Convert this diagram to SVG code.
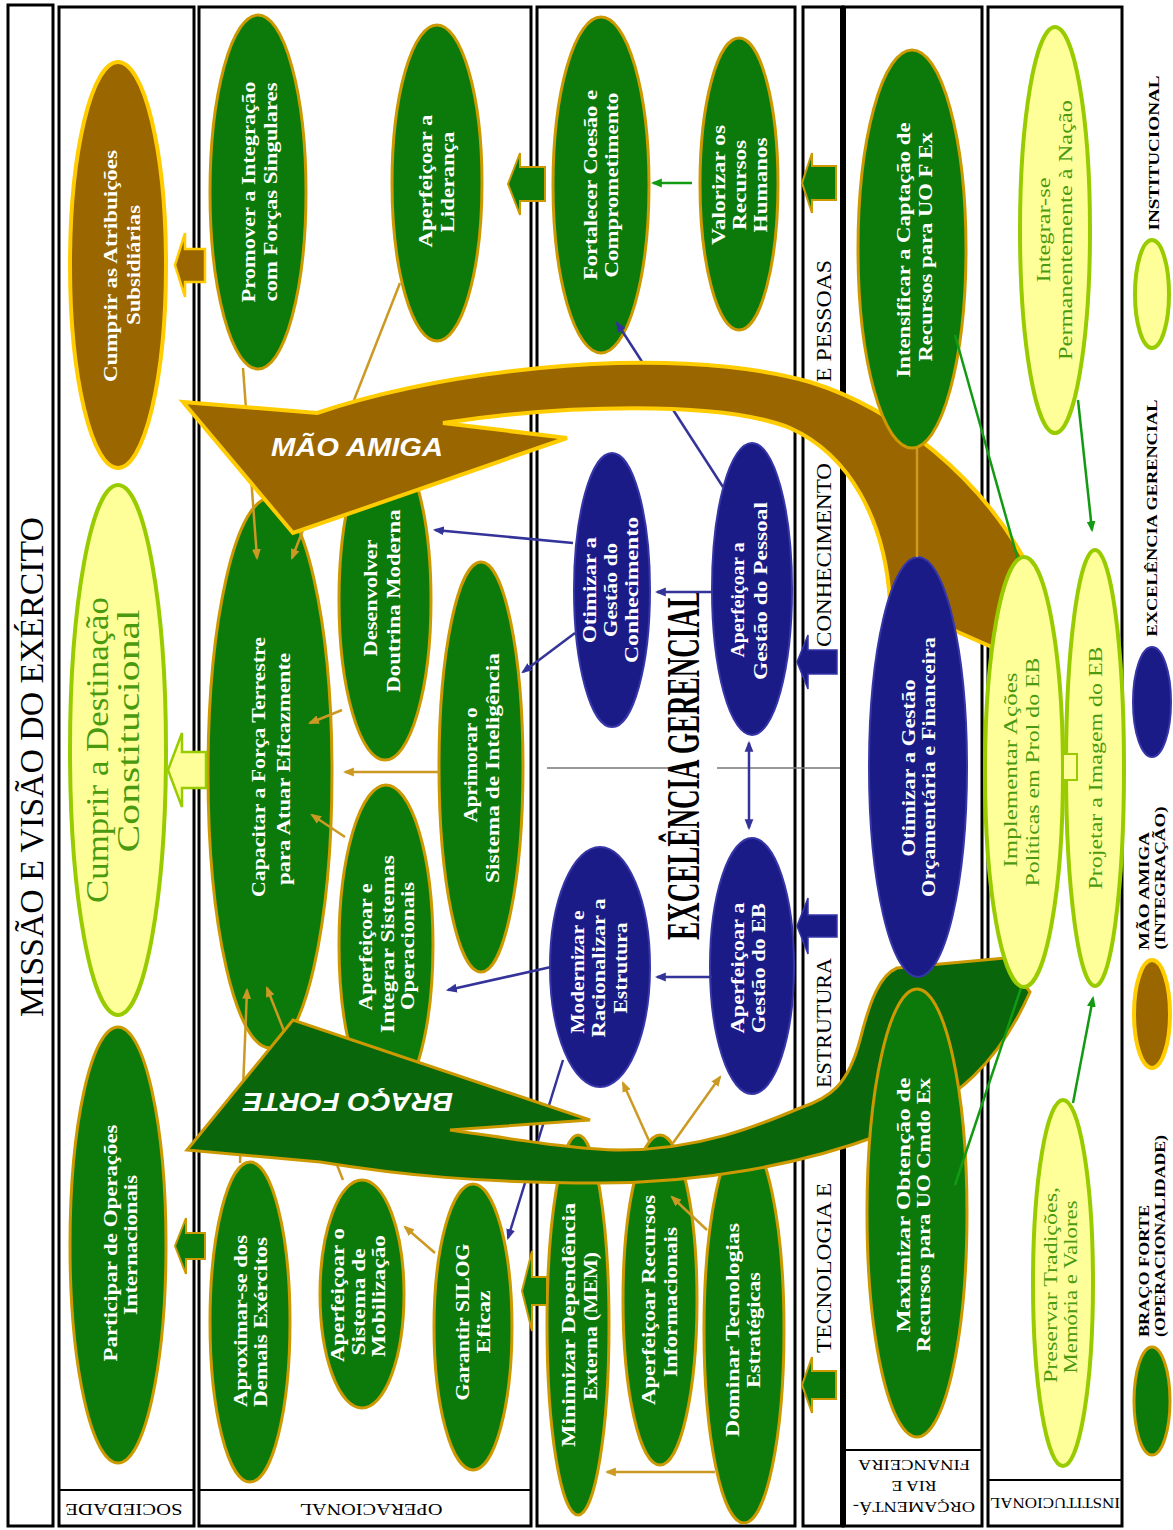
<svg xmlns="http://www.w3.org/2000/svg" width="1173" height="1530" viewBox="0 0 1173 1530">
<defs>
<style>
.box{fill:none;stroke:#000;stroke-width:3}
.sep{stroke:#000;stroke-width:2}
.g{fill:#0b7a0b;stroke:#cc9900;stroke-width:3}
.b{fill:#1b1b88;stroke:#3636a8;stroke-width:2}
.br{fill:#9a6600;stroke:#ffcc00;stroke-width:4}
.y{fill:#ffff99;stroke:#99cc00;stroke-width:4}
.tw{font-family:"Liberation Serif",serif;font-weight:bold;font-size:19px;fill:#fff;text-anchor:middle;dominant-baseline:central}
.tg{font-family:"Liberation Serif",serif;font-size:19px;fill:#4a9a10;text-anchor:middle;dominant-baseline:central}
.lbl{font-family:"Liberation Serif",serif;font-size:20px;fill:#000;text-anchor:middle;dominant-baseline:central}
.small{font-family:"Liberation Serif",serif;font-size:15px;fill:#000;text-anchor:middle;dominant-baseline:central}
.leg{font-family:"Liberation Serif",serif;font-weight:bold;font-size:15px;fill:#000;text-anchor:middle;dominant-baseline:central}
.ct{fill:none;stroke:#cc9922;stroke-width:2.5}
.cb{fill:none;stroke:#333399;stroke-width:2.5}
.cg{fill:none;stroke:#139a13;stroke-width:2.5}
.at{font-family:"Liberation Sans",sans-serif;font-weight:bold;font-style:italic;font-size:25px;fill:#fff;text-anchor:middle;dominant-baseline:central}
.bag{fill:#0b7a0b;stroke:#cc9900;stroke-width:2}
.bab{fill:#1b1b88;stroke:#3636a8;stroke-width:1.5}
</style>
<marker id="mt" viewBox="0 0 10 10" refX="8" refY="5" markerWidth="11" markerHeight="11" markerUnits="userSpaceOnUse" orient="auto-start-reverse"><path d="M0,1 L10,5 L0,9 z" fill="#cc9922"/></marker>
<marker id="mb" viewBox="0 0 10 10" refX="8" refY="5" markerWidth="11" markerHeight="11" markerUnits="userSpaceOnUse" orient="auto-start-reverse"><path d="M0,1 L10,5 L0,9 z" fill="#333399"/></marker>
<marker id="mg" viewBox="0 0 10 10" refX="8" refY="5" markerWidth="11" markerHeight="11" markerUnits="userSpaceOnUse" orient="auto-start-reverse"><path d="M0,1 L10,5 L0,9 z" fill="#139a13"/></marker>
</defs>
<rect width="1173" height="1530" fill="#fff"/>

<g id="panels">
<rect class="box" x="8" y="5" width="45" height="1521"/>
<rect class="box" x="59" y="7" width="135" height="1519"/>
<rect class="box" x="199" y="7" width="332" height="1519"/>
<rect class="box" x="537" y="7" width="258" height="1519"/>
<rect class="box" x="803" y="7" width="40" height="1519"/>
<rect class="box" x="843" y="7" width="139" height="1519"/>
<line x1="843" y1="7" x2="843" y2="1526" stroke="#000" stroke-width="6"/>
<rect class="box" x="988" y="7" width="134" height="1519"/>
<line class="sep" x1="59" y1="1490" x2="194" y2="1490"/>
<line class="sep" x1="199" y1="1490" x2="531" y2="1490"/>
<line class="sep" x1="843" y1="1450" x2="982" y2="1450"/>
<line class="sep" x1="988" y1="1480" x2="1122" y2="1480"/>
<line x1="547" y1="768" x2="668" y2="768" stroke="#777" stroke-width="1.5"/>
<line x1="717" y1="768" x2="840" y2="768" stroke="#777" stroke-width="1.5"/>
<text class="lbl" style="font-size:34px" transform="translate(31,767) rotate(-90)" textLength="500" lengthAdjust="spacingAndGlyphs">MISSÃO E VISÃO DO EXÉRCITO</text>
<text class="small" style="font-size:16px" transform="translate(124,1509) rotate(180)" textLength="117" lengthAdjust="spacingAndGlyphs">SOCIEDADE</text>
<text class="small" style="font-size:16px" transform="translate(371,1509) rotate(180)" textLength="143" lengthAdjust="spacingAndGlyphs">OPERACIONAL</text>
<text class="small" transform="translate(914,1507) rotate(180)" textLength="122" lengthAdjust="spacingAndGlyphs">ORÇAMENTÁ-</text>
<text class="small" transform="translate(914,1486) rotate(180)" textLength="45" lengthAdjust="spacingAndGlyphs">RIA E</text>
<text class="small" transform="translate(914,1465) rotate(180)" textLength="112" lengthAdjust="spacingAndGlyphs">FINANCEIRA</text>
<text class="small" transform="translate(1055,1503) rotate(180)" textLength="130" lengthAdjust="spacingAndGlyphs">INSTITUCIONAL</text>
<text class="lbl" transform="translate(824,1268) rotate(-90)" textLength="170" lengthAdjust="spacingAndGlyphs">TECNOLOGIA E</text>
<text class="lbl" transform="translate(824,1023) rotate(-90)" textLength="130" lengthAdjust="spacingAndGlyphs">ESTRUTURA</text>
<text class="lbl" transform="translate(824,555) rotate(-90)" textLength="184" lengthAdjust="spacingAndGlyphs">CONHECIMENTO</text>
<text class="lbl" transform="translate(824,321) rotate(-90)" textLength="122" lengthAdjust="spacingAndGlyphs">E PESSOAS</text>
<text class="lbl" style="font-size:46px;font-weight:bold" transform="translate(683,765) rotate(-90)" textLength="350" lengthAdjust="spacingAndGlyphs">EXCELÊNCIA GERENCIAL</text>
</g>

<g id="n-cumprir-atribuicoes"><ellipse class="br" cx="118" cy="265" rx="48" ry="203"/>
<text class="tw" transform="translate(110,266) rotate(-90)" textLength="232" lengthAdjust="spacingAndGlyphs">Cumprir as Atribuições</text>
<text class="tw" transform="translate(133,265) rotate(-90)" textLength="120" lengthAdjust="spacingAndGlyphs">Subsidiárias</text></g>

<g id="n-cumprir-destinacao"><ellipse class="y" cx="118" cy="750" rx="48" ry="265"/>
<text class="tg" style="font-size:32px" transform="translate(97,750) rotate(-90)" textLength="306" lengthAdjust="spacingAndGlyphs">Cumprir a Destinação</text>
<text class="tg" style="font-size:32px" transform="translate(128,731) rotate(-90)" textLength="243" lengthAdjust="spacingAndGlyphs">Constitucional</text></g>

<g id="n-participar"><ellipse class="g" cx="118" cy="1245" rx="48" ry="218"/>
<text class="tw" transform="translate(110,1243) rotate(-90)" textLength="237" lengthAdjust="spacingAndGlyphs">Participar de Operações</text>
<text class="tw" transform="translate(130,1245) rotate(-90)" textLength="140" lengthAdjust="spacingAndGlyphs">Internacionais</text></g>

<g id="n-promover"><ellipse class="g" cx="258" cy="192" rx="48" ry="177"/>
<text class="tw" transform="translate(248,192) rotate(-90)" textLength="221" lengthAdjust="spacingAndGlyphs">Promover a Integração</text>
<text class="tw" transform="translate(270,192) rotate(-90)" textLength="219" lengthAdjust="spacingAndGlyphs">com Forças Singulares</text></g>

<g id="n-lideranca"><ellipse class="g" cx="437" cy="183" rx="45" ry="158"/>
<text class="tw" transform="translate(425,181) rotate(-90)" textLength="133" lengthAdjust="spacingAndGlyphs">Aperfeiçoar a</text>
<text class="tw" transform="translate(447,182) rotate(-90)" textLength="101" lengthAdjust="spacingAndGlyphs">Liderança</text></g>

<g id="n-capacitar"><ellipse class="g" cx="270" cy="773" rx="62" ry="275"/>
<text class="tw" transform="translate(258,767) rotate(-90)" textLength="260" lengthAdjust="spacingAndGlyphs">Capacitar a Força Terrestre</text>
<text class="tw" transform="translate(283,769) rotate(-90)" textLength="232" lengthAdjust="spacingAndGlyphs">para Atuar Eficazmente</text></g>

<g id="n-desenvolver"><ellipse class="g" cx="385" cy="600" rx="46" ry="160"/>
<text class="tw" transform="translate(370,598) rotate(-90)" textLength="117" lengthAdjust="spacingAndGlyphs">Desenvolver</text>
<text class="tw" transform="translate(393,601) rotate(-90)" textLength="183" lengthAdjust="spacingAndGlyphs">Doutrina Moderna</text></g>

<g id="n-aprimorar"><ellipse class="g" cx="481" cy="767" rx="42" ry="205"/>
<text class="tw" transform="translate(470,765) rotate(-90)" textLength="115" lengthAdjust="spacingAndGlyphs">Aprimorar o</text>
<text class="tw" transform="translate(492,768) rotate(-90)" textLength="230" lengthAdjust="spacingAndGlyphs">Sistema de Inteligência</text></g>

<g id="n-aperf-integrar"><ellipse class="g" cx="386" cy="945" rx="47" ry="160"/>
<text class="tw" transform="translate(365,947) rotate(-90)" textLength="127" lengthAdjust="spacingAndGlyphs">Aperfeiçoar e</text>
<text class="tw" transform="translate(387,944) rotate(-90)" textLength="178" lengthAdjust="spacingAndGlyphs">Integrar Sistemas</text>
<text class="tw" transform="translate(407,946) rotate(-90)" textLength="128" lengthAdjust="spacingAndGlyphs">Operacionais</text></g>

<g id="n-aproximar"><ellipse class="g" cx="250" cy="1322" rx="40" ry="160"/>
<text class="tw" transform="translate(240,1321) rotate(-90)" textLength="172" lengthAdjust="spacingAndGlyphs">Aproximar-se dos</text>
<text class="tw" transform="translate(260,1322) rotate(-90)" textLength="170" lengthAdjust="spacingAndGlyphs">Demais Exércitos</text></g>

<g id="n-mobilizacao"><ellipse class="g" cx="362" cy="1294" rx="42" ry="114"/>
<text class="tw" transform="translate(337,1295) rotate(-90)" textLength="134" lengthAdjust="spacingAndGlyphs">Aperfeiçoar o</text>
<text class="tw" transform="translate(358,1302) rotate(-90)" textLength="107" lengthAdjust="spacingAndGlyphs">Sistema de</text>
<text class="tw" transform="translate(378,1296) rotate(-90)" textLength="122" lengthAdjust="spacingAndGlyphs">Mobilização</text></g>

<g id="n-silog"><ellipse class="g" cx="473" cy="1327" rx="39" ry="143"/>
<text class="tw" transform="translate(462,1322) rotate(-90)" textLength="157" lengthAdjust="spacingAndGlyphs">Garantir SILOG</text>
<text class="tw" transform="translate(483,1322) rotate(-90)" textLength="63" lengthAdjust="spacingAndGlyphs">Eficaz</text></g>

<g id="n-fortalecer"><ellipse class="g" cx="601" cy="185" rx="48" ry="168"/>
<text class="tw" transform="translate(590,185) rotate(-90)" textLength="190" lengthAdjust="spacingAndGlyphs">Fortalecer Coesão e</text>
<text class="tw" transform="translate(611,185) rotate(-90)" textLength="185" lengthAdjust="spacingAndGlyphs">Comprometimento</text></g>

<g id="n-valorizar"><ellipse class="g" cx="739" cy="184" rx="39" ry="146"/>
<text class="tw" transform="translate(718,185) rotate(-90)" textLength="120" lengthAdjust="spacingAndGlyphs">Valorizar os</text>
<text class="tw" transform="translate(739,185) rotate(-90)" textLength="90" lengthAdjust="spacingAndGlyphs">Recursos</text>
<text class="tw" transform="translate(760,185) rotate(-90)" textLength="95" lengthAdjust="spacingAndGlyphs">Humanos</text></g>

<g id="n-conhecimento"><ellipse class="b" cx="612" cy="590" rx="38" ry="137"/>
<text class="tw" transform="translate(589,590) rotate(-90)" textLength="106" lengthAdjust="spacingAndGlyphs">Otimizar a</text>
<text class="tw" transform="translate(610,590) rotate(-90)" textLength="94" lengthAdjust="spacingAndGlyphs">Gestão do</text>
<text class="tw" transform="translate(631,590) rotate(-90)" textLength="146" lengthAdjust="spacingAndGlyphs">Conhecimento</text></g>

<g id="n-pessoal"><ellipse class="b" cx="752" cy="589" rx="40" ry="146"/>
<text class="tw" transform="translate(737,600) rotate(-90)" textLength="115" lengthAdjust="spacingAndGlyphs">Aperfeiçoar a</text>
<text class="tw" transform="translate(760,591) rotate(-90)" textLength="178" lengthAdjust="spacingAndGlyphs">Gestão do Pessoal</text></g>

<g id="n-modernizar"><ellipse class="b" cx="600" cy="967" rx="50" ry="120"/>
<text class="tw" transform="translate(577,972) rotate(-90)" textLength="123" lengthAdjust="spacingAndGlyphs">Modernizar e</text>
<text class="tw" transform="translate(598,968) rotate(-90)" textLength="139" lengthAdjust="spacingAndGlyphs">Racionalizar a</text>
<text class="tw" transform="translate(620,968) rotate(-90)" textLength="91" lengthAdjust="spacingAndGlyphs">Estrutura</text></g>

<g id="n-gestao-eb"><ellipse class="b" cx="752" cy="966" rx="42" ry="128"/>
<text class="tw" transform="translate(737,968) rotate(-90)" textLength="131" lengthAdjust="spacingAndGlyphs">Aperfeiçoar a</text>
<text class="tw" transform="translate(758,968) rotate(-90)" textLength="130" lengthAdjust="spacingAndGlyphs">Gestão do EB</text></g>

<g id="n-minimizar"><ellipse class="g" cx="578" cy="1325" rx="31" ry="190"/>
<text class="tw" transform="translate(568,1325) rotate(-90)" textLength="244" lengthAdjust="spacingAndGlyphs">Minimizar Dependência</text>
<text class="tw" transform="translate(590,1326) rotate(-90)" textLength="148" lengthAdjust="spacingAndGlyphs">Externa (MEM)</text></g>

<g id="n-informacionais"><ellipse class="g" cx="660" cy="1300" rx="37" ry="165"/>
<text class="tw" transform="translate(648,1300) rotate(-90)" textLength="210" lengthAdjust="spacingAndGlyphs">Aperfeiçoar Recursos</text>
<text class="tw" transform="translate(670,1302) rotate(-90)" textLength="150" lengthAdjust="spacingAndGlyphs">Informacionais</text></g>

<g id="n-dominar"><ellipse class="g" cx="744" cy="1330" rx="40" ry="193"/>
<text class="tw" transform="translate(732,1330) rotate(-90)" textLength="214" lengthAdjust="spacingAndGlyphs">Dominar Tecnologias</text>
<text class="tw" transform="translate(753,1330) rotate(-90)" textLength="116" lengthAdjust="spacingAndGlyphs">Estratégicas</text></g>

<g id="n-integrar"><ellipse class="y" cx="1055" cy="230" rx="35" ry="203"/>
<text class="tg" transform="translate(1043,230) rotate(-90)" textLength="105" lengthAdjust="spacingAndGlyphs">Integrar-se</text>
<text class="tg" transform="translate(1065,230) rotate(-90)" textLength="260" lengthAdjust="spacingAndGlyphs">Permanentemente à Nação</text></g>

<g id="n-preservar"><ellipse class="y" cx="1063" cy="1283" rx="30" ry="183"/>
<text class="tg" transform="translate(1050,1285) rotate(-90)" textLength="196" lengthAdjust="spacingAndGlyphs">Preservar Tradições,</text>
<text class="tg" transform="translate(1070,1287) rotate(-90)" textLength="173" lengthAdjust="spacingAndGlyphs">Memória e Valores</text></g>

<g id="connectors">
<line class="ct" x1="243" y1="368" x2="257" y2="558" marker-end="url(#mt)"/>
<line class="ct" x1="400" y1="283" x2="292" y2="558" marker-end="url(#mt)"/>
<line class="ct" x1="342" y1="710" x2="310" y2="723" marker-end="url(#mt)"/>
<line class="ct" x1="440" y1="772" x2="345" y2="772" marker-end="url(#mt)"/>
<line class="ct" x1="345" y1="837" x2="312" y2="815" marker-end="url(#mt)"/>
<line class="ct" x1="240" y1="1163" x2="247" y2="990" marker-end="url(#mt)"/>
<line class="ct" x1="343" y1="1180" x2="267" y2="988" marker-end="url(#mt)"/>
<line class="ct" x1="435" y1="1253" x2="405" y2="1227" marker-end="url(#mt)"/>
<line class="ct" x1="650" y1="1143" x2="623" y2="1083" marker-end="url(#mt)"/>
<line class="ct" x1="673" y1="1143" x2="720" y2="1077" marker-end="url(#mt)"/>
<line class="ct" x1="707" y1="1230" x2="672" y2="1197" marker-end="url(#mt)"/>
<line class="ct" x1="715" y1="1472" x2="607" y2="1472" marker-end="url(#mt)"/>
<line class="cb" x1="573" y1="543" x2="435" y2="530" marker-end="url(#mb)"/>
<line class="cb" x1="575" y1="633" x2="523" y2="672" marker-end="url(#mb)"/>
<line class="cb" x1="712" y1="592" x2="657" y2="592" marker-end="url(#mb)"/>
<line class="cb" x1="723" y1="487" x2="617" y2="323" marker-end="url(#mb)"/>
<line class="cb" x1="749" y1="743" x2="749" y2="828" marker-start="url(#mb)" marker-end="url(#mb)"/>
<line class="cb" x1="712" y1="977" x2="657" y2="977" marker-end="url(#mb)"/>
<line class="cb" x1="551" y1="967" x2="448" y2="990" marker-end="url(#mb)"/>
<line class="cb" x1="563" y1="1060" x2="508" y2="1238" marker-end="url(#mb)"/>
<line class="cg" x1="692" y1="183" x2="653" y2="183" marker-end="url(#mg)"/>
<line class="cg" x1="1078" y1="400" x2="1092" y2="530" marker-end="url(#mg)"/>
<line class="cg" x1="1073" y1="1103" x2="1093" y2="998" marker-end="url(#mg)"/>
<polygon class="br" style="stroke-width:2.5" points="205,249 185,249 185,233 175,265 185,297 185,282 205,282"/>
<polygon class="y" style="stroke-width:2.5" points="206,752 182,752 182,733 168,770 182,807 182,788 206,788"/>
<polygon class="bag" points="205,1233 186,1233 186,1218 175,1246 186,1274 186,1259 205,1259"/>
<polygon class="bag" points="545,167 520,167 520,153 508,184 520,215 520,201 545,201"/>
<polygon class="bag" points="547,1277 532,1277 532,1251 522,1291 532,1331 532,1305 547,1305"/>
<polygon class="bag" points="836,166 812,166 812,153 802,183 812,213 812,200 836,200"/>
<polygon class="bag" points="836,1371 812,1371 812,1357 802,1385 812,1413 812,1399 836,1399"/>
<polygon class="bab" points="837,650 808,650 808,635 797,662 808,689 808,674 837,674"/>
<polygon class="bab" points="837,915 808,915 808,898 797,926 808,954 808,937 837,937"/>
</g>

<g id="arrow-mao-amiga">
<path class="br" d="M183,402 L317,413 C380,392 460,376 540,368 C640,358 740,362 810,382 C900,410 980,480 1023,557 L1003,652 L890,602 C885,520 850,455 790,428 C720,400 560,405 443,423 L567,438 L293,533 Z"/>
<text class="at" x="357" y="447" textLength="172" lengthAdjust="spacingAndGlyphs">MÃO  AMIGA</text>
</g>

<g id="arrow-braco-forte">
<path d="M187,1150 L293,1020 L590,1120 L450,1130 C520,1140 580,1150 620,1150 C700,1150 760,1125 800,1108 C830,1098 848,1085 860,1040 C870,1000 880,975 897,968 L1005,958 L1030,992 C1000,1060 960,1100 880,1135 C800,1165 700,1183 600,1183 C480,1183 400,1175 320,1162 Z" fill="#0a660a" stroke="#cc9900" stroke-width="3"/>
<text class="at" transform="translate(348,1102) rotate(180)" textLength="210" lengthAdjust="spacingAndGlyphs">BRAÇO  FORTE</text>
</g>

<g id="n-intensificar"><ellipse class="g" cx="912" cy="249" rx="54" ry="199"/>
<text class="tw" transform="translate(903,250) rotate(-90)" textLength="255" lengthAdjust="spacingAndGlyphs">Intensificar a Captação de</text>
<text class="tw" transform="translate(925,247) rotate(-90)" textLength="229" lengthAdjust="spacingAndGlyphs">Recursos para UO F Ex</text></g>

<g id="n-otimizar-orc"><ellipse class="b" cx="918" cy="767" rx="49" ry="210"/>
<text class="tw" transform="translate(908,768) rotate(-90)" textLength="177" lengthAdjust="spacingAndGlyphs">Otimizar a Gestão</text>
<text class="tw" transform="translate(928,767) rotate(-90)" textLength="260" lengthAdjust="spacingAndGlyphs">Orçamentária e Financeira</text></g>

<g id="n-maximizar"><ellipse class="g" cx="917" cy="1213" rx="50" ry="224"/>
<text class="tw" transform="translate(903,1205) rotate(-90)" textLength="255" lengthAdjust="spacingAndGlyphs">Maximizar Obtenção de</text>
<text class="tw" transform="translate(923,1215) rotate(-90)" textLength="274" lengthAdjust="spacingAndGlyphs">Recursos para UO Cmdo Ex</text></g>

<g id="connectors-over">
<line class="ct" x1="917" y1="448" x2="917" y2="557"/>
<line class="cg" x1="955" y1="335" x2="1018" y2="560"/>
<line class="cg" x1="955" y1="1185" x2="1022" y2="985"/>
</g>

<g id="n-implementar"><ellipse class="y" cx="1024" cy="772" rx="39" ry="215"/>
<text class="tg" transform="translate(1010,770) rotate(-90)" textLength="195" lengthAdjust="spacingAndGlyphs">Implementar Ações</text>
<text class="tg" transform="translate(1032,772) rotate(-90)" textLength="229" lengthAdjust="spacingAndGlyphs">Políticas em Prol do EB</text></g>

<g id="n-projetar"><ellipse class="y" cx="1095" cy="768" rx="29" ry="218"/>
<text class="tg" transform="translate(1095,768) rotate(-90)" textLength="243" lengthAdjust="spacingAndGlyphs">Projetar a Imagem do EB</text></g>

<g id="link-projetar-implementar">
<path d="M1064,754 L1077,754 L1077,780 L1064,780" fill="#ffff99" stroke="#99cc00" stroke-width="2"/>
</g>

<g id="legend">
<ellipse class="y" cx="1152" cy="294" rx="17" ry="54"/>
<text class="leg" transform="translate(1154,153) rotate(-90)" textLength="155" lengthAdjust="spacingAndGlyphs">INSTITUCIONAL</text>
<ellipse class="b" cx="1152" cy="702" rx="19" ry="55"/>
<text class="leg" transform="translate(1152,518) rotate(-90)" textLength="237" lengthAdjust="spacingAndGlyphs">EXCELÊNCIA GERENCIAL</text>
<ellipse class="br" cx="1152" cy="1014" rx="18" ry="54"/>
<text class="leg" transform="translate(1144,891) rotate(-90)" textLength="118" lengthAdjust="spacingAndGlyphs">MÃO AMIGA</text>
<text class="leg" transform="translate(1160,878) rotate(-90)" textLength="143" lengthAdjust="spacingAndGlyphs">(INTEGRAÇÃO)</text>
<ellipse class="g" cx="1152" cy="1401" rx="18" ry="54"/>
<text class="leg" transform="translate(1144,1271) rotate(-90)" textLength="132" lengthAdjust="spacingAndGlyphs">BRAÇO FORTE</text>
<text class="leg" transform="translate(1160,1236) rotate(-90)" textLength="202" lengthAdjust="spacingAndGlyphs">(OPERACIONALIDADE)</text>
</g>
</svg>
